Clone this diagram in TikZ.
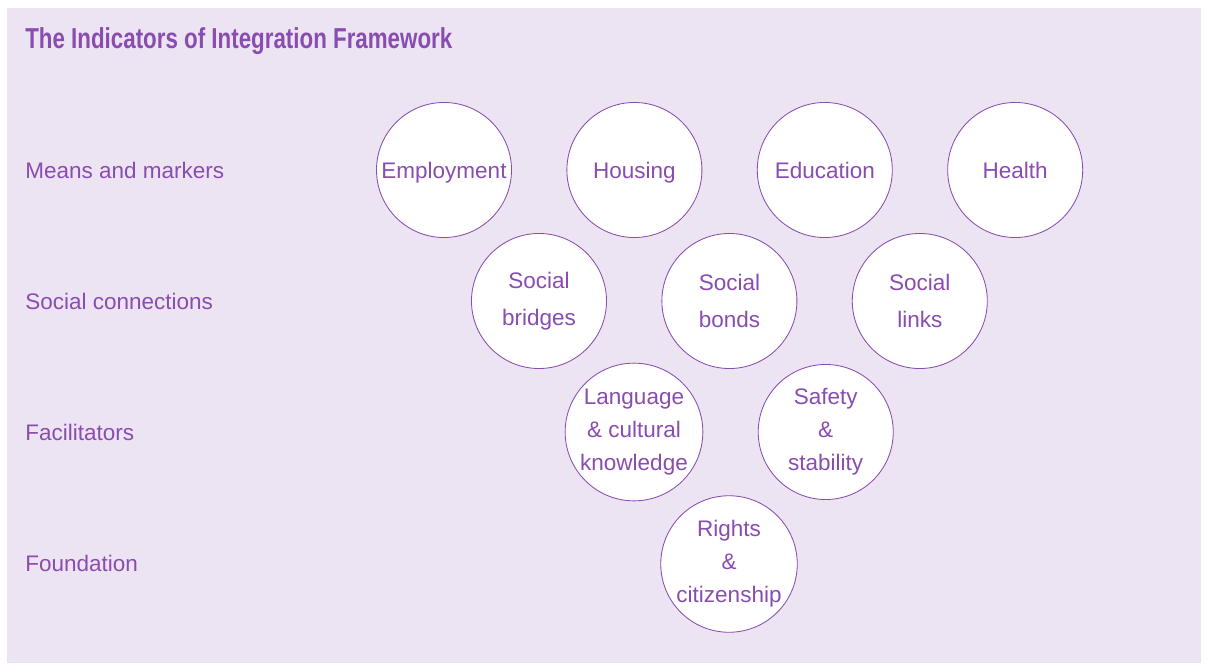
\documentclass[tikz,border=0pt]{standalone}
\usepackage{fontspec}
\usepackage[usenames,dvipsnames]{xcolor}
\usepackage{tikz}
\usetikzlibrary{positioning}
\newfontfamily\bodyfont{Liberation Sans}
\newfontfamily\titlefont[FakeStretch=0.775]{Liberation Sans}
\definecolor{iifback}{RGB}{236,228,242}
\definecolor{iifpurple}{RGB}{137,76,176}

\begin{document}
\begin{tikzpicture}[x=0.025cm, y=-0.025cm,
  ring/.style={circle, draw=iifpurple, line width=0.6pt, fill=white, text=iifpurple,
    minimum size=3.375cm, inner sep=0pt, align=center,
    font=\bodyfont\fontsize{16}{23.5}\selectfont},
  ringone/.style={ring, text height=13.5pt, text depth=1.5pt},
  ringwide/.style={ring, font=\bodyfont\fontsize{16}{26.5}\selectfont},
  level/.style={anchor=west, text=iifpurple, inner sep=0pt,
    font=\bodyfont\fontsize{16}{19}\selectfont}]
  % background %
  \useasboundingbox (0,0) rectangle (1207,663);
  \fill[iifback] (7,8) rectangle (1201,663);
  % title and levels %
  \node[anchor=west, inner sep=0pt, text=iifpurple,
    font=\titlefont\bfseries\fontsize{20.5}{24}\selectfont] (title) at (25,41)
    {The Indicators of Integration Framework};
  \node[level] (means) at (25,170) {Means and markers};
  \node[level] (social) at (25,301) {Social connections};
  \node[level] (facil) at (25,432) {Facilitators};
  \node[level] (found) at (25,563) {Foundation};
  % means and markers %
  \node[ringone] (employ) at (444,170) {Employment};
  \node[ringone, right=1.3625cm of employ] (housing) {Housing};
  \node[ringone, right=1.3625cm of housing] (educ) {Education};
  \node[ringone, right=1.3625cm of educ] (health) {Health};
  % social connections %
  \node[ringwide] (bridges) at (539,301) {Social\\bridges};
  \node[ringwide, right=1.3625cm of bridges] (bonds) {Social\\bonds};
  \node[ringwide, right=1.3625cm of bonds] (links) {Social\\links};
  % facilitators %
  \node[ring] (lang) at (634,432) {Language\\\& cultural\\knowledge};
  \node[ring, right=1.3625cm of lang] (safety) {Safety\\\&\\stability};
  % foundation %
  \node[ring] (rights) at (729,564) {Rights\\\&\\citizenship};
\end{tikzpicture}
\end{document}
